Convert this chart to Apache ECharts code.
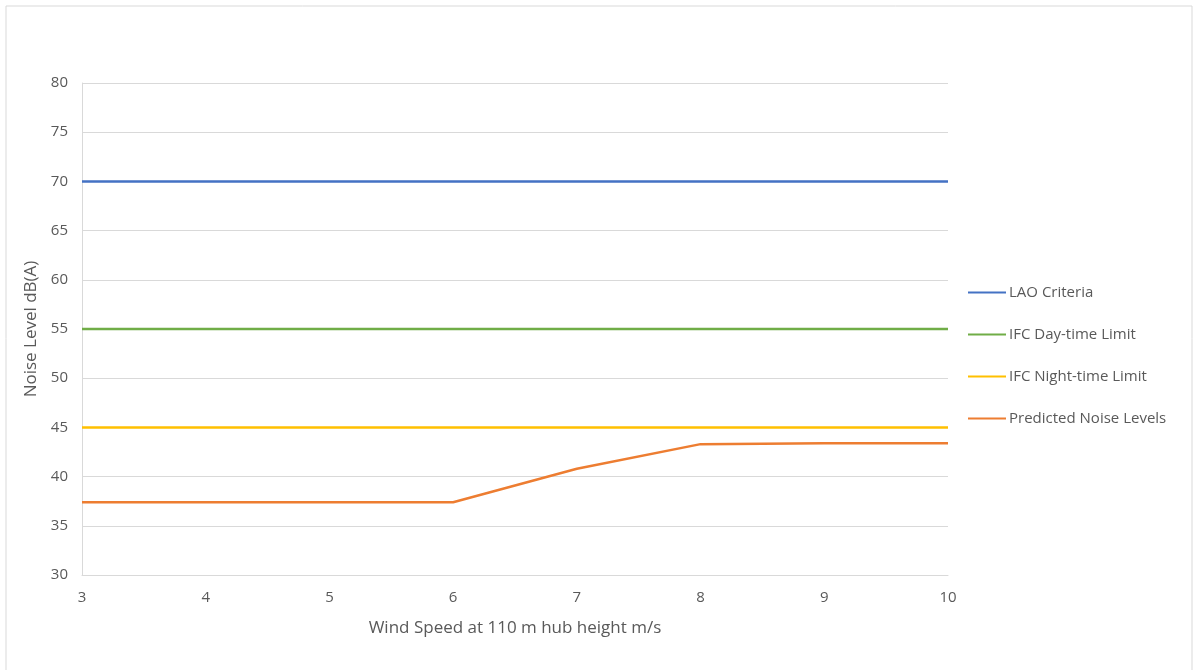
<!DOCTYPE html>
<html>
<head>
<meta charset="utf-8">
<script src="https://cdn.jsdelivr.net/npm/echarts@6/dist/echarts.min.js"></script>
<style>
html,body{margin:0;padding:0;background:#fff;}
#chart{width:1197px;height:670px;}
</style>
</head>
<body>
<div id="chart"></div>
<script>
const windSpeeds = [3, 4, 5, 6, 7, 8, 9, 10];
const laoCriteria = [70, 70, 70, 70, 70, 70, 70, 70];
const ifcDay = [55, 55, 55, 55, 55, 55, 55, 55];
const ifcNight = [45, 45, 45, 45, 45, 45, 45, 45];
const predicted = [37.4, 37.4, 37.4, 37.4, 40.8, 43.3, 43.4, 43.4];
const seriesNames = ['LAO Criteria', 'IFC Day-time Limit', 'IFC Night-time Limit', 'Predicted Noise Levels'];
const seriesColors = ['#4472C4', '#70AD47', '#FFC000', '#ED7D31'];
const seriesData = [laoCriteria, ifcDay, ifcNight, predicted];

const chart = echarts.init(document.getElementById('chart'), null, {renderer: 'canvas'});
const font = '"Open Sans", "Liberation Sans", sans-serif';
chart.setOption({
  animation: false,
  textStyle: {fontFamily: font},
  graphic: [{
    type: 'rect',
    shape: {x: 6, y: 6, width: 1186, height: 680},
    style: {fill: 'none', stroke: '#d9d9d9', lineWidth: 1},
    silent: true, z: -1
  }],
  grid: {left: 82, right: 249, top: 83, bottom: 95},
  legend: {
    orient: 'vertical',
    left: 963,
    top: 280,
    itemGap: 27,
    itemWidth: 38,
    itemHeight: 18,
    icon: 'path://M0,8 L38,8 L38,10 L0,10 Z',
    textStyle: {color: '#595959', fontSize: 15, fontFamily: font, padding: [0, 0, 0, -2]},
    data: seriesNames
  },
  xAxis: {
    type: 'value',
    min: 3, max: 10, interval: 1,
    name: 'Wind Speed at 110 m hub height m/s',
    nameLocation: 'middle',
    nameGap: 45,
    nameTextStyle: {color: '#595959', fontSize: 17, fontFamily: font},
    axisLine: {show: true, lineStyle: {color: '#d9d9d9', width: 1}},
    axisTick: {show: false},
    axisLabel: {color: '#595959', fontSize: 15, margin: 15},
    splitLine: {show: false}
  },
  yAxis: {
    type: 'value',
    min: 30, max: 80, interval: 5,
    name: 'Noise Level dB(A)',
    nameLocation: 'middle',
    nameGap: 42,
    nameRotate: 90,
    nameTextStyle: {color: '#595959', fontSize: 17, fontFamily: font},
    axisLine: {show: true, lineStyle: {color: '#d9d9d9', width: 1}},
    axisTick: {show: false},
    axisLabel: {color: '#595959', fontSize: 15, margin: 14},
    splitLine: {show: true, lineStyle: {color: '#d9d9d9', width: 1}}
  },
  series: seriesNames.map((n, i) => ({
    name: n,
    type: 'line',
    data: windSpeeds.map((x, j) => [x, seriesData[i][j]]),
    showSymbol: false,
    symbol: 'none',
    lineStyle: {color: seriesColors[i], width: 2.5},
    itemStyle: {color: seriesColors[i]}
  }))
});
</script>
</body>
</html>
